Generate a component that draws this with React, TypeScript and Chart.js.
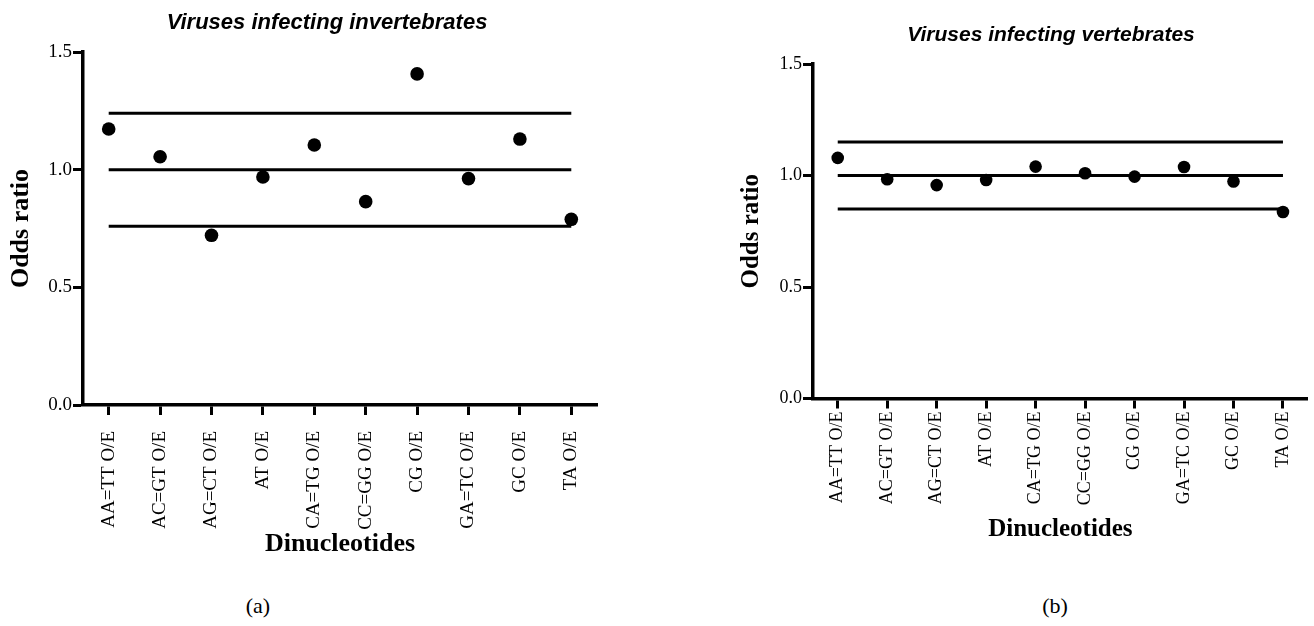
import { useEffect, useRef } from "react";
import { Chart, registerables } from "chart.js";

Chart.register(...registerables);

// Dinucleotide odds ratios (observed / expected)
const categories = [
  "AA=TT O/E",
  "AC=GT O/E",
  "AG=CT O/E",
  "AT O/E",
  "CA=TG O/E",
  "CC=GG O/E",
  "CG O/E",
  "GA=TC O/E",
  "GC O/E",
  "TA O/E",
];
const invertebrateRatios = [1.173, 1.055, 0.721, 0.969, 1.105, 0.864, 1.407, 0.962, 1.13, 0.789];
const vertebrateRatios = [1.079, 0.983, 0.957, 0.98, 1.04, 1.01, 0.995, 1.038, 0.973, 0.836];
// Upper limit, neutral value and lower limit of the normal range
const invertebrateBands = [1.24, 1.0, 0.76];
const vertebrateBands = [1.15, 1.0, 0.85];
const yTicks = [0, 0.5, 1.0, 1.5];

const SERIF = "'Liberation Serif', 'Times New Roman', serif";
const SANS = "'Liberation Sans', Arial, sans-serif";

type Panel = {
  values: number[];
  bands: number[];
  width: number;
  height: number;
  padTop: number;
  padRight: number;
  axisWidth: number;
  axisHeight: number;
  dotRadius: number;
  tickFont: number;
  catFont: number;
  catPadding: number;
  titleFont: number;
  yTitlePad: number;
};

function buildConfig(p: Panel): any {
  const first = categories[0];
  const last = categories[categories.length - 1];
  const bandSets = p.bands.map((v) => ({
    type: "line",
    data: [
      { x: first, y: v },
      { x: last, y: v },
    ],
    borderColor: "#000",
    borderWidth: 3,
    borderCapStyle: "butt",
    pointRadius: 0,
    pointHoverRadius: 0,
    fill: false,
  }));
  return {
    type: "line",
    data: {
      labels: categories,
      datasets: [
        {
          data: p.values,
          showLine: false,
          pointRadius: p.dotRadius,
          pointHoverRadius: p.dotRadius,
          pointBackgroundColor: "#000",
          pointBorderColor: "#000",
          pointBorderWidth: 0,
        },
        ...bandSets,
      ],
    },
    options: {
      responsive: false,
      animation: false,
      devicePixelRatio: 1,
      events: [],
      layout: { padding: { top: p.padTop, right: p.padRight, left: 0, bottom: 0 } },
      plugins: { legend: { display: false }, tooltip: { enabled: false }, title: { display: false } },
      scales: {
        x: {
          type: "category",
          offset: true,
          grid: {
            offset: false,
            drawOnChartArea: false,
            drawTicks: true,
            tickLength: 10,
            tickWidth: 3,
            tickColor: "#000",
          },
          border: { display: true, color: "#000", width: 3.5 },
          ticks: {
            autoSkip: false,
            minRotation: 90,
            maxRotation: 90,
            color: "#000",
            padding: p.catPadding,
            font: { family: SERIF, size: p.catFont },
          },
          title: {
            display: true,
            text: "Dinucleotides",
            color: "#000",
            font: { family: SERIF, size: p.titleFont, weight: "bold" },
            padding: { top: 0, bottom: 0 },
          },
          afterFit: (s: any) => {
            s.height = p.axisHeight;
          },
        },
        y: {
          min: 0,
          max: 1.5,
          afterBuildTicks: (s: any) => {
            s.ticks = yTicks.map((v) => ({ value: v }));
          },
          grid: {
            drawOnChartArea: false,
            drawTicks: true,
            tickLength: 10,
            tickWidth: 3,
            tickColor: "#000",
          },
          border: { display: true, color: "#000", width: 3.5 },
          ticks: {
            color: "#000",
            padding: 1,
            font: { family: SERIF, size: p.tickFont },
            callback: (v: any) => Number(v).toFixed(1),
          },
          title: {
            display: true,
            text: "Odds ratio",
            color: "#000",
            font: { family: SERIF, size: p.titleFont, weight: "bold" },
            padding: { top: p.yTitlePad, bottom: 0 },
          },
          afterFit: (s: any) => {
            s.width = p.axisWidth;
          },
        },
      },
    },
  };
}

function PanelChart({ panel, left }: { panel: Panel; left: number }) {
  const ref = useRef<HTMLCanvasElement | null>(null);
  useEffect(() => {
    if (!ref.current) return;
    const chart = new Chart(ref.current, buildConfig(panel));
    return () => chart.destroy();
  }, [panel]);
  return (
    <canvas
      ref={ref}
      width={panel.width}
      height={panel.height}
      style={{ position: "absolute", left, top: 0, width: panel.width, height: panel.height }}
    />
  );
}

const leftPanel: Panel = {
  values: invertebrateRatios,
  bands: invertebrateBands,
  width: 620,
  height: 560,
  padTop: 52,
  padRight: 23,
  axisWidth: 83,
  axisHeight: 155,
  dotRadius: 6.8,
  tickFont: 19,
  catFont: 19,
  catPadding: 16,
  titleFont: 26,
  yTitlePad: 6,
};

const rightPanel: Panel = {
  values: vertebrateRatios,
  bands: vertebrateBands,
  width: 584,
  height: 545,
  padTop: 64,
  padRight: 1,
  axisWidth: 83,
  axisHeight: 146.5,
  dotRadius: 6.3,
  tickFont: 18,
  catFont: 18,
  catPadding: 3,
  titleFont: 25,
  yTitlePad: 7,
};

function Label({ text, cx, cy, size, style }: { text: string; cx: number; cy: number; size: number; style: any }) {
  return (
    <div
      style={{
        position: "absolute",
        left: cx - 250,
        top: cy - size / 2,
        width: 500,
        height: size,
        lineHeight: `${size}px`,
        fontSize: size,
        textAlign: "center",
        whiteSpace: "nowrap",
        color: "#000",
        ...style,
      }}
    >
      {text}
    </div>
  );
}

export default function App() {
  const titleStyle = { fontFamily: SANS, fontWeight: "bold", fontStyle: "italic" };
  const capStyle = { fontFamily: SERIF };
  return (
    <div style={{ position: "absolute", left: 0, top: 0, width: 1314, height: 626, background: "#fff", overflow: "hidden" }}>
      <PanelChart panel={leftPanel} left={0} />
      <PanelChart panel={rightPanel} left={730} />
      <Label text="Viruses infecting invertebrates" cx={327} cy={22} size={22} style={titleStyle} />
      <Label text="Viruses infecting vertebrates" cx={1051} cy={33} size={21} style={titleStyle} />
      <Label text="(a)" cx={258} cy={606} size={22} style={capStyle} />
      <Label text="(b)" cx={1055} cy={606} size={22} style={capStyle} />
    </div>
  );
}
